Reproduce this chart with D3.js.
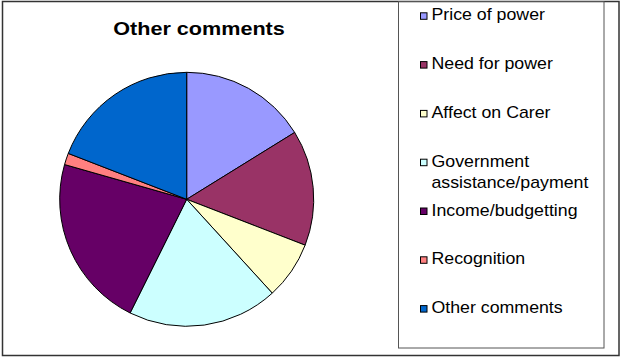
<!DOCTYPE html>
<html>
<head>
<meta charset="utf-8">
<script src="https://cdn.jsdelivr.net/npm/d3@7"></script>
<style>
  html, body { margin: 0; padding: 0; background: #fff; }
  svg { display: block; font-family: "Liberation Sans", Arial, sans-serif; }
</style>
</head>
<body>
<svg id="chart" width="620" height="360"></svg>
<script>
// Response categories and counts
const categories = [
  "Price of power",
  "Need for power",
  "Affect on Carer",
  "Government assistance/payment",
  "Income/budgetting",
  "Recognition",
  "Other comments"
];
const counts = [11, 10, 5, 13, 15, 1, 13];
const colors = ["#9999FF", "#993366", "#FFFFCC", "#CCFFFF", "#660066", "#FF8080", "#0066CC"];
// Legend lines (long labels wrap onto two lines)
const legendLines = [
  ["Price of power"],
  ["Need for power"],
  ["Affect on Carer"],
  ["Government", "assistance/payment"],
  ["Income/budgetting"],
  ["Recognition"],
  ["Other comments"]
];
const title = "Other comments";

const svg = d3.select("#chart");

// Outer chart frame
svg.append("rect")
  .attr("x", 2.5).attr("y", 1.5)
  .attr("width", 616.5).attr("height", 354)
  .attr("fill", "#fff")
  .attr("stroke", "#333").attr("stroke-width", 1.5);

// Title
svg.append("text")
  .attr("transform", "translate(199,35) scale(1.2,1)")
  .attr("text-anchor", "middle")
  .attr("font-size", 18)
  .attr("font-weight", "bold")
  .attr("fill", "#000")
  .text(title);

// Pie
const cx = 186.7, cy = 199.3, radius = 127;
const pie = d3.pie().sort(null).value(d => d);
const arc = d3.arc().innerRadius(0).outerRadius(radius);
const color = d3.scaleOrdinal().domain(categories).range(colors);

svg.append("g")
  .attr("transform", `translate(${cx},${cy})`)
  .selectAll("path")
  .data(pie(counts))
  .join("path")
  .attr("d", arc)
  .attr("fill", (d, i) => color(categories[i]))
  .attr("stroke", "#000")
  .attr("stroke-width", 1)
  .attr("stroke-linejoin", "round");

// Legend box
svg.append("rect")
  .attr("x", 398.5).attr("y", 1.5)
  .attr("width", 205.5).attr("height", 346.5)
  .attr("fill", "none")
  .attr("stroke", "#555").attr("stroke-width", 1);

const rowY = d3.scaleLinear().domain([0, 1]).range([20.3, 69.1]);

const items = svg.append("g").selectAll("g")
  .data(categories)
  .join("g")
  .attr("transform", (d, i) => `translate(0,${rowY(i)})`);

items.append("rect")
  .attr("x", 420.5).attr("y", -7.5)
  .attr("width", 6.5).attr("height", 6.5)
  .attr("fill", d => color(d))
  .attr("stroke", "#000").attr("stroke-width", 1);

items.each(function(d, i) {
  const g = d3.select(this);
  legendLines[i].forEach((line, j) => {
    g.append("text")
      .attr("transform", `translate(431.5,${j * 21}) scale(1.11,1)`)
      .attr("font-size", 16)
      .attr("fill", "#000")
      .text(line);
  });
});
</script>
</body>
</html>
